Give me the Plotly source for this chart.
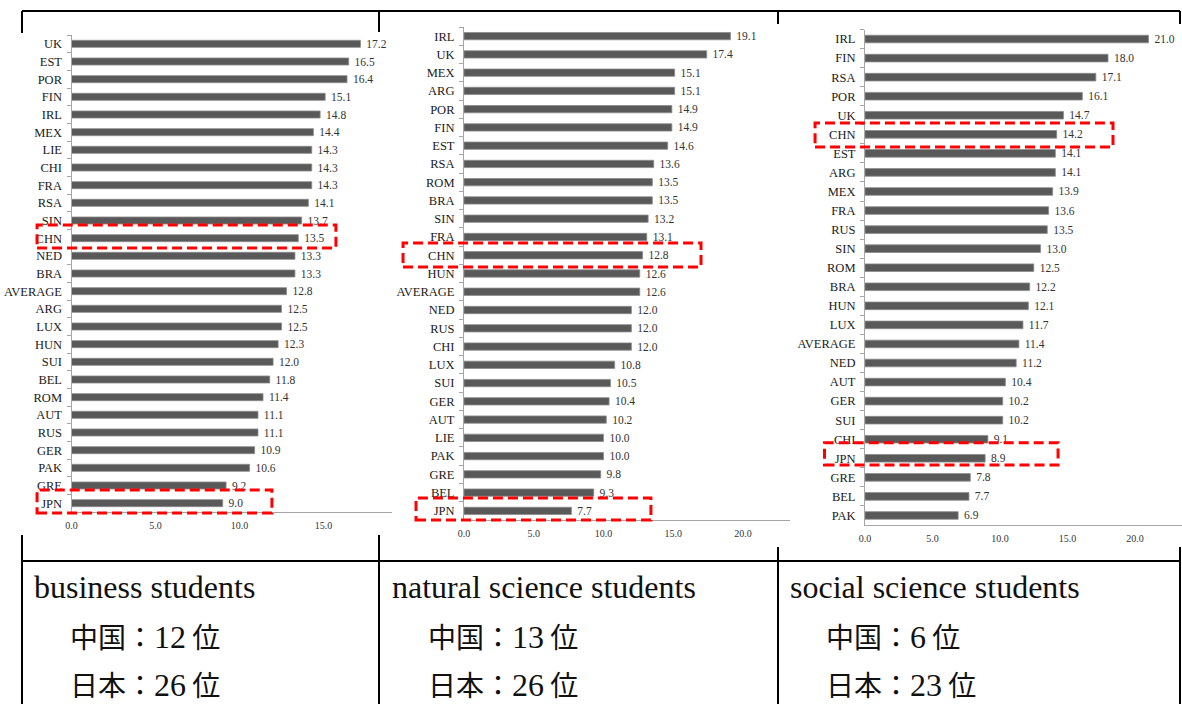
import plotly.graph_objects as go

W, H = 1182, 704

# ---- data -------------------------------------------------------------
biz_countries = ["UK", "EST", "POR", "FIN", "IRL", "MEX", "LIE", "CHI", "FRA", "RSA",
                 "SIN", "CHN", "NED", "BRA", "AVERAGE", "ARG", "LUX", "HUN", "SUI",
                 "BEL", "ROM", "AUT", "RUS", "GER", "PAK", "GRE", "JPN"]
biz_values = [17.2, 16.5, 16.4, 15.1, 14.8, 14.4, 14.3, 14.3, 14.3, 14.1,
              13.7, 13.5, 13.3, 13.3, 12.8, 12.5, 12.5, 12.3, 12.0,
              11.8, 11.4, 11.1, 11.1, 10.9, 10.6, 9.2, 9.0]

nat_countries = ["IRL", "UK", "MEX", "ARG", "POR", "FIN", "EST", "RSA", "ROM", "BRA",
                 "SIN", "FRA", "CHN", "HUN", "AVERAGE", "NED", "RUS", "CHI", "LUX",
                 "SUI", "GER", "AUT", "LIE", "PAK", "GRE", "BEL", "JPN"]
nat_values = [19.1, 17.4, 15.1, 15.1, 14.9, 14.9, 14.6, 13.6, 13.5, 13.5,
              13.2, 13.1, 12.8, 12.6, 12.6, 12.0, 12.0, 12.0, 10.8,
              10.5, 10.4, 10.2, 10.0, 10.0, 9.8, 9.3, 7.7]

soc_countries = ["IRL", "FIN", "RSA", "POR", "UK", "CHN", "EST", "ARG", "MEX", "FRA",
                 "RUS", "SIN", "ROM", "BRA", "HUN", "LUX", "AVERAGE", "NED", "AUT",
                 "GER", "SUI", "CHI", "JPN", "GRE", "BEL", "PAK"]
soc_values = [21.0, 18.0, 17.1, 16.1, 14.7, 14.2, 14.1, 14.1, 13.9, 13.6,
              13.5, 13.0, 12.5, 12.2, 12.1, 11.7, 11.4, 11.2, 10.4,
              10.2, 10.2, 9.1, 8.9, 7.8, 7.7, 6.9]

x_ticks = [0, 5, 10, 15, 20]
panel_titles = ["business students", "natural science students", "social science students"]
china_rank = [12, 13, 6]
japan_rank = [26, 26, 23]

# ---- layout geometry (pixels) ---------------------------------------------
def px(x):
    return x / W


def py(y):
    return 1 - y / H


# plot area left/right, top/bottom, and pixels per value unit;
# highlight boxes: (category, row offset above, row offset below, value at left, value at right)
panels = [
    dict(cats=biz_countries, vals=biz_values, left=71.5, right=392, top=35, bottom=512, unit=16.8,
         boxes=[("CHN", -0.75, 0.55, -2.05, 15.74), ("JPN", -0.75, 0.55, -2.05, 11.93)]),
    dict(cats=nat_countries, vals=nat_values, left=464, right=790, top=27, bottom=520, unit=13.95,
         boxes=[("CHN", -0.67, 0.65, -4.37, 16.99), ("JPN", -0.71, 0.50, -3.44, 13.4)]),
    dict(cats=soc_countries, vals=soc_values, left=865, right=1182, top=29.5, bottom=525, unit=13.5,
         boxes=[("CHN", -0.59, 0.67, -3.70, 18.37), ("JPN", -0.81, 0.35, -3.00, 14.3)]),
]
text_x = [32, 390, 788]
rank_x = [68, 426, 824]

SERIF = "Liberation Serif, Times New Roman, serif"
CJK = "Noto Sans CJK JP"
BAR = "#595959"
AXIS = "#a6a6a6"

fig = go.Figure()
shapes = []
annotations = []

for i, p in enumerate(panels):
    sfx = "" if i == 0 else str(i + 1)
    xa, ya = "x" + sfx, "y" + sfx
    n = len(p["cats"])
    xmax = (p["right"] - p["left"]) / p["unit"]
    row_h = (p["bottom"] - p["top"]) / n

    fig.add_trace(go.Bar(
        y=p["cats"], x=p["vals"], orientation="h",
        xaxis=xa, yaxis=ya, width=0.4,
        marker=dict(color=BAR, line=dict(color="#8c8c8c", width=0.8)),
        text=[f"\u00a0{v:.1f}" for v in p["vals"]],
        textposition="outside", cliponaxis=False, constraintext="none",
        textfont=dict(family=SERIF, size=11.5, color="#333333"),
        hoverinfo="skip", showlegend=False,
    ))

    fig.layout["xaxis" + sfx] = dict(
        domain=[px(p["left"]), px(p["right"])], range=[0, xmax], anchor=ya,
        tickvals=x_ticks, ticktext=[f"{t:.1f}" for t in x_ticks],
        showline=True, linecolor=AXIS, linewidth=1, showgrid=False, zeroline=False,
        ticks="", ticklabelstandoff=4, automargin=False,
        tickfont=dict(family=SERIF, size=10, color="#333333"), fixedrange=True,
    )
    fig.layout["yaxis" + sfx] = dict(
        domain=[py(p["bottom"]), py(p["top"])], anchor=xa,
        type="category", categoryorder="array", categoryarray=p["cats"],
        range=[n - 0.5, -0.5],
        showline=True, linecolor=AXIS, linewidth=1, showgrid=False, zeroline=False,
        ticks="outside", tickson="boundaries", ticklen=4, tickcolor=AXIS, tickwidth=1,
        ticklabelstandoff=6, automargin=False,
        tickfont=dict(family=SERIF, size=12.5, color="#1a1a1a"), fixedrange=True,
    )

    # highlighted rows (China, Japan), placed from the same row/value scales
    for cat, d0, d1, v0, v1 in p["boxes"]:
        k = p["cats"].index(cat)
        y_top = p["top"] + (k + 0.5 + d0) * row_h
        y_bot = p["top"] + (k + 0.5 + d1) * row_h
        x_l = p["left"] + v0 * p["unit"]
        x_r = p["left"] + v1 * p["unit"]
        shapes.append(dict(
            type="rect", xref="paper", yref="paper",
            x0=px(x_l), x1=px(x_r), y0=py(y_bot), y1=py(y_top),
            line=dict(color="#ff0000", width=3, dash="10px,5px"),
            fillcolor="rgba(0,0,0,0)", layer="above",
        ))

    # captions under each chart
    annotations.append(dict(
        x=px(text_x[i]), y=py(587), xref="paper", yref="paper",
        xanchor="left", yanchor="middle", showarrow=False,
        text=panel_titles[i], font=dict(family=SERIF, size=32, color="#111111"),
    ))
    for label, rank, yy in (("中国", china_rank[i], 636), ("日本", japan_rank[i], 684)):
        annotations.append(dict(
            x=px(rank_x[i]), y=py(yy), xref="paper", yref="paper",
            xanchor="left", yanchor="middle", showarrow=False,
            text=(f'<span style="font-family:{CJK}">{label}：</span>'
                  f'<span style="font-size:32px">{rank}</span>'
                  f'<span style="font-family:{CJK}"> 位</span>'),
            font=dict(family=SERIF, size=28, color="#111111"),
        ))

# table rules
rule = dict(color="#000000", width=2)
table_lines = [
    (22, 11, 1180, 11),      # top rule
    (22, 561, 1180, 561),    # rule above captions
    (22, 11, 22, 33), (379, 11, 379, 32), (778, 11, 778, 24), (1180, 11, 1180, 24),
    (22, 535, 22, 704), (379, 535, 379, 704), (778, 547, 778, 704), (1180, 547, 1180, 704),
]
for x0, y0, x1, y1 in table_lines:
    shapes.append(dict(type="line", xref="paper", yref="paper",
                       x0=px(x0), y0=py(y0), x1=px(x1), y1=py(y1), line=rule, layer="below"))

fig.update_layout(
    width=W, height=H, autosize=False,
    margin=dict(l=0, r=0, t=0, b=0),
    paper_bgcolor="white", plot_bgcolor="white",
    bargap=0.6, shapes=shapes, annotations=annotations,
    showlegend=False,
)

fig.write_html("out.html", config={"displayModeBar": False})
